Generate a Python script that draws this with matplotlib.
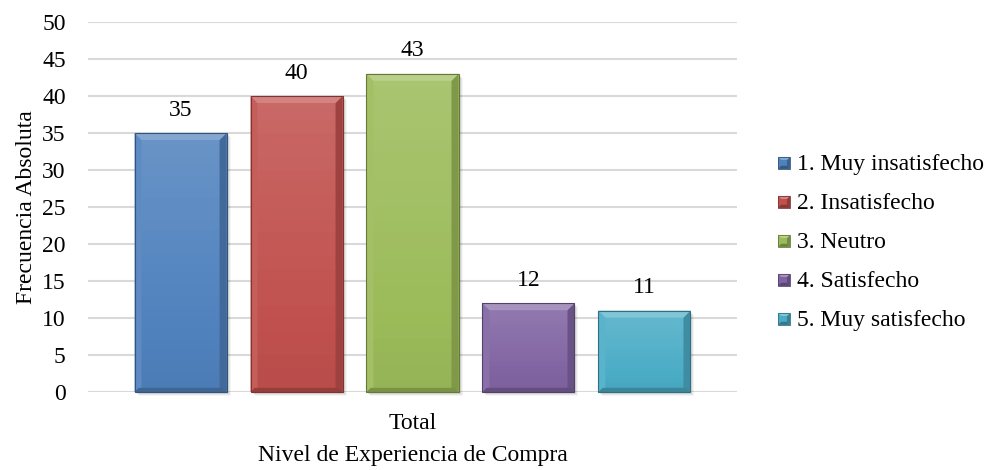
import matplotlib
matplotlib.use("Agg")
import matplotlib.pyplot as plt
import matplotlib.colors as mcolors
from matplotlib.patches import Polygon, Rectangle
from matplotlib.legend_handler import HandlerBase

categories = ["Total"]
series = ["1. Muy insatisfecho", "2. Insatisfecho", "3. Neutro",
          "4. Satisfecho", "5. Muy satisfecho"]
values = [35, 40, 43, 12, 11]
colors = ["#4F81BD", "#C0504D", "#9BBB59", "#8064A2", "#4BACC6"]
yticks = [0, 5, 10, 15, 20, 25, 30, 35, 40, 45, 50]

plt.rcParams["font.family"] = ["Liberation Serif", "DejaVu Serif"]
FS = 17

W, H, DPI = 989, 470, 100
fig = plt.figure(figsize=(W / DPI, H / DPI), dpi=DPI)
ax = fig.add_axes([88 / W, 78 / H, (737 - 88) / W, (392 - 22) / H])

step = 0.1787
width = 0.1418
offsets = [(i - (len(series) - 1) / 2) * step for i in range(len(series))]

ax.set_xlim(-0.5, 0.5)
ax.set_ylim(0, 50)
ax.set_yticks(yticks)
ax.set_xticks([0])
ax.set_xticklabels(categories)
ax.yaxis.grid(True, color="#d9d9d9", linewidth=1.5)
ax.set_axisbelow(True)
for s in ax.spines.values():
    s.set_visible(False)
ax.tick_params(axis="both", length=0, labelsize=FS)
ax.tick_params(axis="y", pad=16)
ax.tick_params(axis="x", pad=15)
ax.set_ylabel("Frecuencia Absoluta", fontsize=FS, labelpad=4)
ax.set_xlabel("Nivel de Experiencia de Compra", fontsize=FS, labelpad=8)


def shade(c, f):
    r, g, b = mcolors.to_rgb(c)
    if f >= 0:
        return (r + (1 - r) * f, g + (1 - g) * f, b + (1 - b) * f)
    return (r * (1 + f), g * (1 + f), b * (1 + f))


# pixel size in data units
inv = ax.transData.inverted()
x0d, y0d = inv.transform((0, 0))
x1d, y1d = inv.transform((1, 1))
px = x1d - x0d
py = y1d - y0d


def bevel_box(axis, x, y, w, h, c, bevel_px=7, z=3):
    bx = bevel_px * px
    by = bevel_px * py
    # soft shadow
    for k, a in zip(range(1, 5), [0.10, 0.08, 0.06, 0.04]):
        axis.add_patch(Rectangle((x + k * px, y - k * py), w, h, facecolor="black",
                                 alpha=a, edgecolor="none", zorder=z - 1, clip_on=False))
    # vertical gradient body
    n = 24
    for i in range(n):
        t = i / (n - 1)
        col = shade(c, 0.14 - 0.18 * (1 - t))
        axis.add_patch(Rectangle((x, y + h * i / n), w, h / n + 0.01 * py, facecolor=col,
                                 edgecolor="none", zorder=z, clip_on=False))
    bxo, byo = min(bx, w / 2), min(by, h / 2)
    top = [(x, y + h), (x + w, y + h), (x + w - bxo, y + h - byo), (x + bxo, y + h - byo)]
    bot = [(x, y), (x + w, y), (x + w - bxo * 0.6, y + byo * 0.6), (x + bxo * 0.6, y + byo * 0.6)]
    left = [(x, y), (x, y + h), (x + bxo, y + h - byo), (x + bxo, y + byo * 0.6)]
    right = [(x + w, y), (x + w, y + h), (x + w - bxo, y + h - byo), (x + w - bxo, y + byo * 0.6)]
    for poly, f in [(left, 0.08), (right, -0.18), (bot, -0.22), (top, 0.30)]:
        axis.add_patch(Polygon(poly, closed=True, facecolor=shade(c, f), edgecolor="none",
                               zorder=z + 0.5, clip_on=False))
    axis.add_patch(Rectangle((x, y), w, h, facecolor="none", edgecolor=shade(c, -0.35),
                             linewidth=0.8, zorder=z + 1, clip_on=False))


bars = ax.bar(offsets, values, width=width, color=colors, alpha=0.0)
for rect, v, c in zip(bars, values, colors):
    bevel_box(ax, rect.get_x(), 0, rect.get_width(), rect.get_height(), c)
    ax.annotate(str(v), (rect.get_x() + rect.get_width() / 2, v), xytext=(0, 16.5),
                textcoords="offset points", ha="center", va="center", fontsize=FS)


class BevelHandler(HandlerBase):
    def create_artists(self, legend, orig_handle, xdescent, ydescent, width, height,
                       fontsize, trans):
        c = orig_handle.get_facecolor()
        s = 8.6
        x = width - s
        y = (height - s) / 2 - 1
        arts = [Rectangle((x, y), s, s, facecolor=c, edgecolor="none", transform=trans)]
        b = 2.2
        top = [(x, y + s), (x + s, y + s), (x + s - b, y + s - b), (x + b, y + s - b)]
        bot = [(x, y), (x + s, y), (x + s - b, y + b), (x + b, y + b)]
        right = [(x + s, y), (x + s, y + s), (x + s - b, y + s - b), (x + s - b, y + b)]
        for poly, f in [(right, -0.25), (bot, -0.3), (top, 0.3)]:
            arts.append(Polygon(poly, closed=True, facecolor=shade(c, f),
                                edgecolor="none", transform=trans))
        arts.append(Rectangle((x, y), s, s, facecolor="none", edgecolor=shade(c, -0.35),
                              linewidth=0.6, transform=trans))
        return arts


handles = [Rectangle((0, 0), 1, 1, facecolor=c) for c in colors]
leg = fig.legend(handles, series, loc="center left", bbox_to_anchor=(778 / W, 1 - 242 / H),
                 frameon=False, fontsize=FS, handler_map={Rectangle: BevelHandler()},
                 handlelength=0.51, handletextpad=0.3, labelspacing=0.74,
                 borderpad=0, borderaxespad=0)

fig.savefig("out.png", dpi=DPI)
